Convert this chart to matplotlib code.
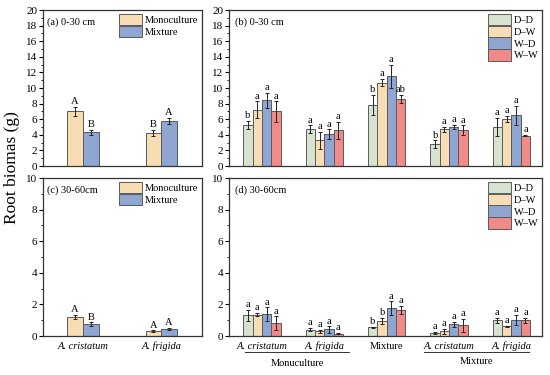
import numpy as np
import matplotlib.pyplot as plt
from matplotlib.patches import Patch
from matplotlib.ticker import MultipleLocator
from matplotlib.transforms import blended_transform_factory

plt.rcParams['font.family'] = ['Liberation Serif', 'DejaVu Serif']
plt.rcParams['font.size'] = 7.5

# species panels (a) and (c)
species = ['A. cristatum', 'A. frigida']
mono_030 = [7.0, 4.2]
mono_030_err = [0.6, 0.4]
mix_030 = [4.3, 5.8]
mix_030_err = [0.3, 0.4]
mono_030_lab = ['A', 'B']
mix_030_lab = ['B', 'A']

mono_3060 = [1.2, 0.3]
mono_3060_err = [0.15, 0.05]
mix_3060 = [0.75, 0.45]
mix_3060_err = [0.12, 0.08]
mono_3060_lab = ['A', 'A']
mix_3060_lab = ['B', 'A']

# treatment panels (b) and (d)
treatments = ['D\u2013D', 'D\u2013W', 'W\u2013D', 'W\u2013W']
group_labels = ['A. cristatum', 'A. frigida', 'Mixture', 'A. cristatum', 'A. frigida']

b_vals = [[5.3, 4.7, 7.8, 2.8, 5.0],
          [7.2, 3.3, 10.7, 4.7, 6.0],
          [8.4, 4.1, 11.5, 5.0, 6.5],
          [7.0, 4.6, 8.6, 4.6, 3.9]]
b_err = [[0.5, 0.5, 1.3, 0.5, 1.2],
         [1.1, 1.1, 0.5, 0.3, 0.4],
         [1.0, 0.6, 1.5, 0.3, 1.2],
         [1.3, 1.1, 0.5, 0.6, 0.1]]
b_lab = [['b', 'a', 'b', 'b', 'a'],
         ['a', 'a', 'a', 'a', 'a'],
         ['a', 'a', 'a', 'a', 'a'],
         ['a', 'a', 'ab', 'a', 'a']]

d_vals = [[1.3, 0.4, 0.55, 0.2, 1.0],
          [1.35, 0.3, 0.95, 0.3, 0.62],
          [1.37, 0.42, 1.75, 0.75, 1.02],
          [0.8, 0.15, 1.65, 0.67, 1.0]]
d_err = [[0.35, 0.1, 0.03, 0.05, 0.15],
         [0.1, 0.1, 0.2, 0.15, 0.04],
         [0.45, 0.2, 0.45, 0.15, 0.3],
         [0.45, 0.03, 0.25, 0.4, 0.15]]
d_lab = [['a', 'a', 'b', 'a', 'a'],
         ['a', 'a', 'b', 'a', 'a'],
         ['a', 'a', 'a', 'a', 'a'],
         ['a', 'a', 'a', 'a', 'a']]

c_mono = '#f8dcb3'
c_mix = '#8fa5d2'
treat_colors = ['#d6e4cf', '#f8dcb3', '#8fa5d2', '#f28a87']
edge = '#5a5a5a'

W, H = 550, 375
fig = plt.figure(figsize=(5.5, 3.75), dpi=100)


def px_axes(l, t, r, b):
    return fig.add_axes([l / W, 1 - b / H, (r - l) / W, (b - t) / H])


def style(ax, ymax, major, minor):
    ax.set_ylim(0, ymax)
    ax.yaxis.set_major_locator(MultipleLocator(major))
    ax.yaxis.set_minor_locator(MultipleLocator(minor))
    ax.tick_params(axis='y', which='major', length=3, width=0.8, labelsize=8, pad=1)
    ax.tick_params(axis='y', which='minor', length=1.5, width=0.6)
    ax.tick_params(axis='x', length=0)
    for s in ax.spines.values():
        s.set_linewidth(0.9)
        s.set_color('#333333')


def bars(ax, x, vals, errs, labs, color, width):
    ax.bar(x, vals, width, color=color, edgecolor=edge, linewidth=0.7)
    ax.errorbar(x, vals, yerr=errs, fmt='none', ecolor='#222222',
                elinewidth=0.7, capsize=1.3, capthick=0.7)
    for xi, v, e, lab in zip(x, vals, errs, labs):
        ax.annotate(lab, (xi, v + e), xytext=(0, 0.5), textcoords='offset points',
                    ha='center', va='bottom', fontsize=7.5)


def legend(ax, labels, colors):
    handles = [Patch(facecolor=c, edgecolor=edge, linewidth=0.7) for c in colors]
    ax.legend(handles, labels, loc='upper right', frameon=False, fontsize=7.5,
              handlelength=2.2, handleheight=1.3, borderaxespad=0.25,
              borderpad=0.1, labelspacing=0.05, handletextpad=0.25)


x2 = np.arange(1, 3)
bw2 = 0.2
panels_sp = [
    (px_axes(43, 10, 202, 166), mono_030, mono_030_err, mono_030_lab,
     mix_030, mix_030_err, mix_030_lab, 20, '(a) 0-30 cm'),
    (px_axes(43, 178, 202, 336), mono_3060, mono_3060_err, mono_3060_lab,
     mix_3060, mix_3060_err, mix_3060_lab, 10, '(c) 30-60cm'),
]
for ax, mv, me, ml, xv, xe, xl, ymax, title in panels_sp:
    bars(ax, x2 - bw2 / 2, mv, me, ml, c_mono, bw2)
    bars(ax, x2 + bw2 / 2, xv, xe, xl, c_mix, bw2)
    ax.set_xlim(0.49, 2.52)
    style(ax, ymax, 2, 1)
    ax.text(0.025, 0.955, title, transform=ax.transAxes, ha='left', va='top', fontsize=7.5)
    legend(ax, ['Monoculture', 'Mixture'], [c_mono, c_mix])

ax_a, ax_c = panels_sp[0][0], panels_sp[1][0]
ax_a.set_xticks([])
ax_c.set_xticks(x2)
ax_c.set_xticklabels(species, style='italic', fontsize=7.5)
ax_c.tick_params(axis='x', pad=4)

x5 = np.arange(1, 6)
bw5 = 0.15
offs = (np.arange(4) - 1.5) * bw5
ax_b = px_axes(229, 10, 542, 166)
ax_d = px_axes(229, 178, 542, 336)
for ax, vals, errs, labs, ymax, title in [
        (ax_b, b_vals, b_err, b_lab, 20, '(b) 0-30 cm'),
        (ax_d, d_vals, d_err, d_lab, 10, '(d) 30-60cm')]:
    for i in range(4):
        bars(ax, x5 + offs[i], vals[i], errs[i], labs[i], treat_colors[i], bw5)
    ax.set_xlim(0.47, 5.49)
    style(ax, ymax, 2, 1)
    ax.text(0.018, 0.955, title, transform=ax.transAxes, ha='left', va='top', fontsize=7.5)
    legend(ax, treatments, treat_colors)

ax_b.set_xticks([])
ax_d.set_xticks(x5)
ax_d.set_xticklabels(group_labels, fontsize=7.5)
for i, t in enumerate(ax_d.get_xticklabels()):
    if i != 2:
        t.set_style('italic')
ax_d.tick_params(axis='x', pad=4)

# group underlines and labels
label_tr = blended_transform_factory(ax_d.transData, fig.transFigure)
for x0, x1, lab, ty in [(0.72, 2.4, 'Monuculture', 363), (3.6, 5.28, 'Mixture', 362)]:
    ax_d.plot([x0, x1], [-0.1, -0.1], transform=ax_d.get_xaxis_transform(),
              color='#333333', lw=0.7, clip_on=False)
    ax_d.text((x0 + x1) / 2, 1 - ty / H, lab, transform=label_tr,
              ha='center', va='center', fontsize=7.5)

fig.text(12 / W, 1 - 168 / H, 'Root biomas (g)', rotation=90, ha='center', va='center',
         fontsize=12.5)

fig.savefig('out.png', dpi=100)
